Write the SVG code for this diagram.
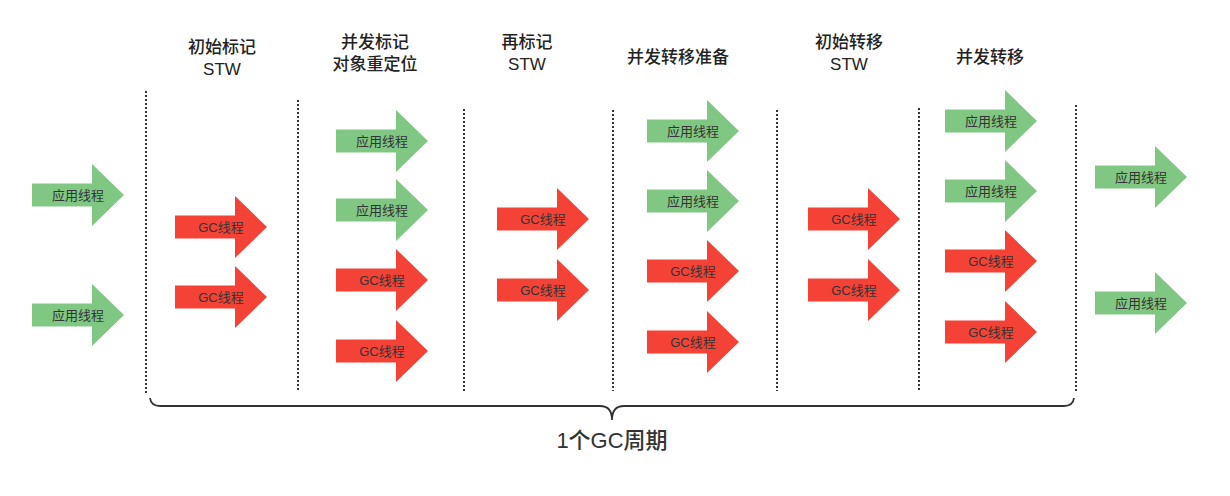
<svg xmlns="http://www.w3.org/2000/svg" width="1230" height="496" viewBox="0 0 1230 496">
<style>
.g{fill:#81c784}
.r{fill:#f44336}
.al{font-family:"Liberation Sans","Noto Sans CJK SC",sans-serif;font-size:13px;fill:#333;text-anchor:middle;dominant-baseline:central}
.h{font-family:"Liberation Sans","Noto Sans CJK SC",sans-serif;font-size:17px;font-weight:500;fill:#222;text-anchor:middle}
.d{stroke:#333;stroke-width:2;stroke-dasharray:2 2;fill:none}
.lbl{font-family:"Liberation Sans","Noto Sans CJK SC",sans-serif;font-size:22px;font-weight:500;fill:#333;text-anchor:middle}
</style>
<defs>
<path id="arr" d="M0,-11.5 H60 V-31 L92,0 L60,31 V11.5 H0 Z"/>
</defs>
<rect width="1230" height="496" fill="#fff"/>
<g id="headers">
<text class="h" x="222" y="53">初始标记</text><text class="h" x="222" y="75">STW</text>
<text class="h" x="375" y="48">并发标记</text><text class="h" x="375" y="70">对象重定位</text>
<text class="h" x="527" y="48">再标记</text><text class="h" x="527" y="70">STW</text>
<text class="h" x="678" y="63">并发转移准备</text>
<text class="h" x="849" y="48">初始转移</text><text class="h" x="849" y="70">STW</text>
<text class="h" x="990" y="63">并发转移</text>
</g>
<g id="connectors">
<line class="d" x1="146" y1="91" x2="146" y2="393"/>
<line class="d" x1="298" y1="100" x2="298" y2="392"/>
<line class="d" x1="464" y1="109" x2="464" y2="391"/>
<line class="d" x1="613" y1="110" x2="613" y2="391"/>
<line class="d" x1="777" y1="110" x2="777" y2="391"/>
<line class="d" x1="919" y1="108" x2="919" y2="391"/>
<line class="d" x1="1076" y1="105" x2="1076" y2="391"/>
<path d="M150,398 Q151,406 160,406 H600 Q612,406 612,420 Q612,406 624,406 H1064 Q1073,406 1074,398" fill="none" stroke="#333" stroke-width="1.8"/>
</g>
<g id="n1"><use href="#arr" class="g" x="32" y="195"/><text class="al" x="78" y="195">应用线程</text></g>
<g id="n2"><use href="#arr" class="g" x="32" y="315"/><text class="al" x="78" y="315">应用线程</text></g>
<g id="n3"><use href="#arr" class="r" x="175" y="227"/><text class="al" x="221" y="227">GC线程</text></g>
<g id="n4"><use href="#arr" class="r" x="175" y="297"/><text class="al" x="221" y="297">GC线程</text></g>
<g id="n5"><use href="#arr" class="g" x="336" y="141"/><text class="al" x="382" y="141">应用线程</text></g>
<g id="n6"><use href="#arr" class="g" x="336" y="210"/><text class="al" x="382" y="210">应用线程</text></g>
<g id="n7"><use href="#arr" class="r" x="336" y="280"/><text class="al" x="382" y="280">GC线程</text></g>
<g id="n8"><use href="#arr" class="r" x="336" y="351"/><text class="al" x="382" y="351">GC线程</text></g>
<g id="n9"><use href="#arr" class="r" x="497" y="219"/><text class="al" x="543" y="219">GC线程</text></g>
<g id="n10"><use href="#arr" class="r" x="497" y="290"/><text class="al" x="543" y="290">GC线程</text></g>
<g id="n11"><use href="#arr" class="g" x="647" y="131"/><text class="al" x="693" y="131">应用线程</text></g>
<g id="n12"><use href="#arr" class="g" x="647" y="201"/><text class="al" x="693" y="201">应用线程</text></g>
<g id="n13"><use href="#arr" class="r" x="647" y="271"/><text class="al" x="693" y="271">GC线程</text></g>
<g id="n14"><use href="#arr" class="r" x="647" y="342"/><text class="al" x="693" y="342">GC线程</text></g>
<g id="n15"><use href="#arr" class="r" x="808" y="219"/><text class="al" x="854" y="219">GC线程</text></g>
<g id="n16"><use href="#arr" class="r" x="808" y="290"/><text class="al" x="854" y="290">GC线程</text></g>
<g id="n17"><use href="#arr" class="g" x="945" y="121"/><text class="al" x="991" y="121">应用线程</text></g>
<g id="n18"><use href="#arr" class="g" x="945" y="191"/><text class="al" x="991" y="191">应用线程</text></g>
<g id="n19"><use href="#arr" class="r" x="945" y="261"/><text class="al" x="991" y="261">GC线程</text></g>
<g id="n20"><use href="#arr" class="r" x="945" y="332"/><text class="al" x="991" y="332">GC线程</text></g>
<g id="n21"><use href="#arr" class="g" x="1095" y="177"/><text class="al" x="1141" y="177">应用线程</text></g>
<g id="n22"><use href="#arr" class="g" x="1095" y="303"/><text class="al" x="1141" y="303">应用线程</text></g>
<g id="cycle"><text class="lbl" x="612" y="448">1个GC周期</text></g>
</svg>
